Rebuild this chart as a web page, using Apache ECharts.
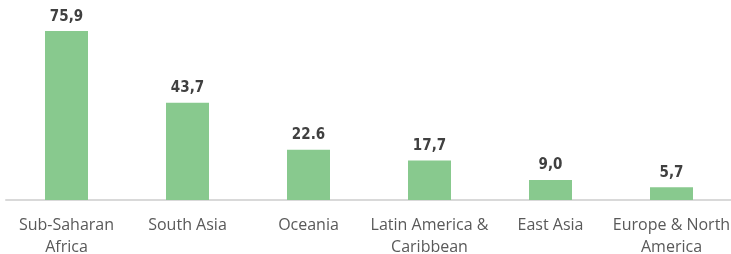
<!DOCTYPE html>
<html>
<head>
<meta charset="utf-8">
<script src="https://cdn.jsdelivr.net/npm/echarts@6/dist/echarts.min.js"></script>
<style>
  html, body { margin: 0; padding: 0; background: #fff; }
  #chart { width: 731px; height: 254px; }
</style>
</head>
<body>
<div id="chart"></div>
<script>
const categories = [
  "Sub-Saharan\nAfrica",
  "South Asia",
  "Oceania",
  "Latin America &\nCaribbean",
  "East Asia",
  "Europe & North\nAmerica"
];
const values = [75.9, 43.7, 22.6, 17.7, 9.0, 5.7];
// labels as printed in the source (mixed decimal separators)
const valueLabels = ["75,9", "43,7", "22.6", "17,7", "9,0", "5,7"];

const chart = echarts.init(document.getElementById("chart"));
const option = {
  animation: false,
  grid: {
    left: 6, right: -1, top: 22, bottom: 54,
    containLabel: false,
    outerBoundsMode: "none"
  },
  xAxis: {
    type: "category",
    data: categories,
    axisLine: { lineStyle: { color: "#d9d9d9", width: 2 } },
    axisTick: { show: false },
    axisLabel: {
      color: "#595959",
      fontFamily: "'Open Sans', sans-serif",
      fontSize: 16,
      lineHeight: 22,
      margin: 14,
      interval: 0
    }
  },
  yAxis: {
    type: "value",
    min: 0,
    max: 80,
    show: false,
    splitLine: { show: false }
  },
  series: [
    {
      type: "bar",
      data: values,
      barWidth: 43,
      itemStyle: { color: "#88c98e" },
      label: {
        show: true,
        position: "top",
        distance: 7,
        color: "#404040",
        fontFamily: "'Liberation Sans Narrow', 'DejaVu Sans Condensed', sans-serif",
        fontWeight: "bold",
        fontSize: 15,
        formatter: (p) => valueLabels[p.dataIndex]
      }
    }
  ]
};
chart.setOption(option);
</script>
</body>
</html>
